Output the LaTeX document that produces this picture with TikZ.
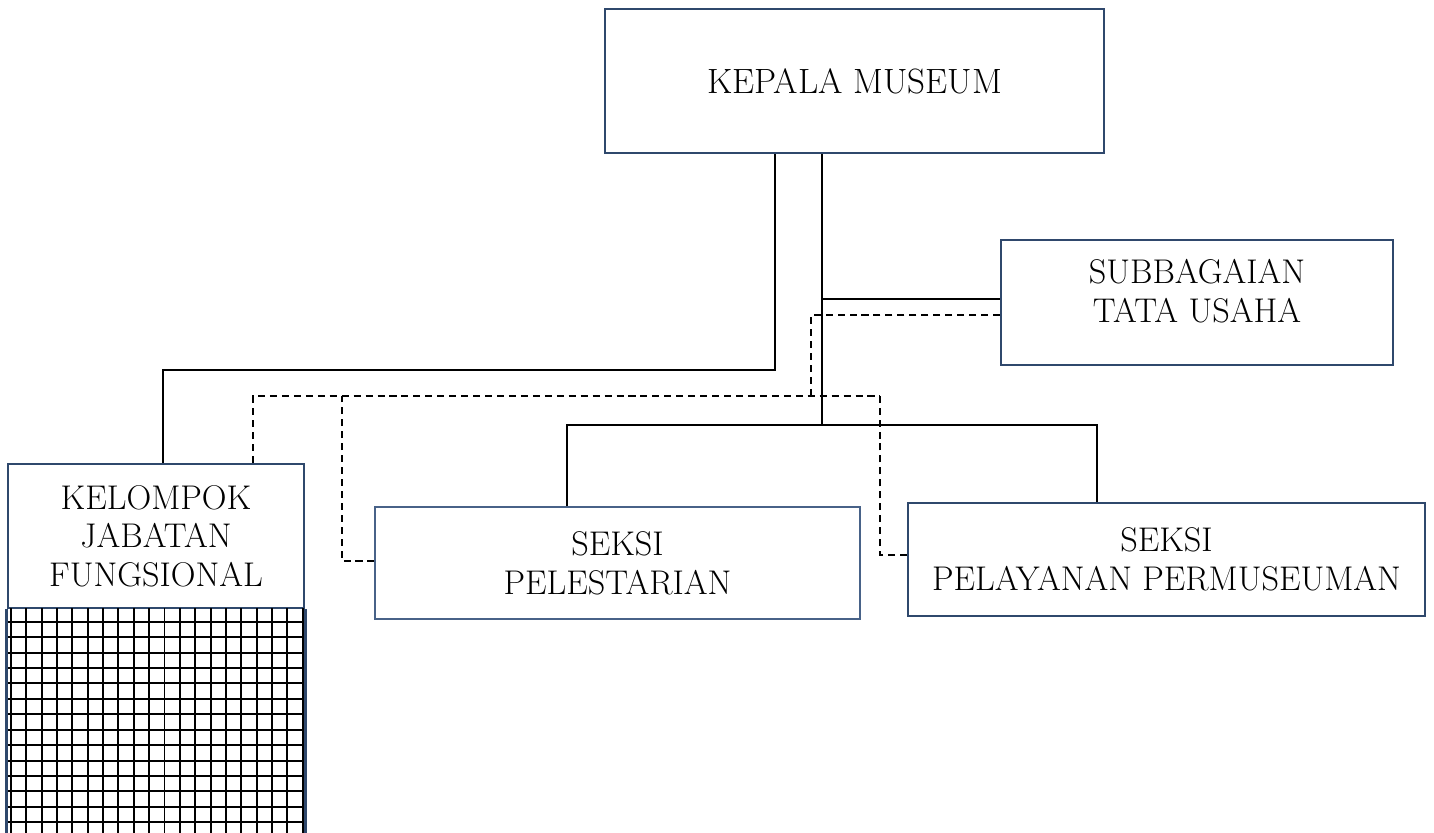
\documentclass[tikz,border=0pt]{standalone}
\usetikzlibrary{calc}
\definecolor{boxblue}{RGB}{47,72,108}
\definecolor{thinblue}{RGB}{72,98,136}
\tikzset{
  % style for the box of a unit
  unit/.style={
    draw=boxblue,
    line width=1.2pt,
    fill=white,
    align=center,
    inner sep=0pt,
    font=\fontsize{19.5}{22}\selectfont
  },
  % style for a line of command
  command/.style={black,line width=1pt},
  % style for a line of coordination
  liaison/.style={black,line width=0.8pt,dash pattern=on 4pt off 2.8pt},
}

\begin{document}
\begin{tikzpicture}[x=0.2mm,y=-0.2mm]
\useasboundingbox (0,0) rectangle (1434,833);
\node[unit,font=\fontsize{20}{22}\selectfont,minimum width=99.8mm,minimum height=28.8mm] (kepala) at (854.5,81) {KEPALA MUSEUM};
\node[unit,minimum width=78.4mm,minimum height=25mm] (tu) at (1197,302.5) {};
\node[align=center,font=\fontsize{19.5}{22}\selectfont] (tutext) at (1197,291) {SUBBAGAIAN\\TATA USAHA};
\node[unit,line width=1.5pt,minimum width=59.2mm,minimum height=28.8mm] (kjf) at (156,536) {KELOMPOK\\JABATAN\\FUNGSIONAL};
\node[unit,draw=thinblue,line width=0.6pt,minimum width=97mm,minimum height=22.4mm] (pel) at (617.5,563) {SEKSI\\PELESTARIAN};
\node[unit,minimum width=103.4mm,minimum height=22.6mm] (pmus) at (1166.5,559.5) {SEKSI\\PELAYANAN PERMUSEUMAN};
% grid below the functional group
\begin{scope}
  \clip (8,608) rectangle (304,833);
  \foreach \x in {0,...,19}
    \draw [black,line width=1.1pt](11+15.35*\x,608)--(11+15.35*\x,833);
  \foreach \y in {0,...,13}
    \draw [black,line width=1.1pt](8,621.7+15.43*\y)--(304,621.7+15.43*\y);
\end{scope}
\draw [boxblue,line width=1.5pt](kjf.south west)--(kjf.south west |- 0,833);
\draw [boxblue,line width=1.5pt](kjf.south east)--(kjf.south east |- 0,833);
\coordinate (jfbend) at (775,370);
\coordinate (bus) at (822,425);
\coordinate (tujoin) at (822,299);
\coordinate (staffbus) at (880,396);
\coordinate (pelbend) at (342,396);
\draw [command](kepala.south -| jfbend)--(jfbend)-|([xshift=1.4mm]kjf.north);
\draw [command](kepala.south -| bus)--(bus);
\draw [command](tujoin)--(tujoin -| tu.west);
\draw [command](pel.north -| 567,0)|-(bus)-|(pmus.north -| 1097,0);
\draw [liaison](tu.west |- 0,315)-|(811,396);
\draw [liaison](kjf.north -| 253,0)|-(staffbus);
\draw [liaison](pel.west |- 0,561)-|(pelbend);
\draw [liaison](pmus.west |- 0,555)-|(staffbus);
\end{tikzpicture}
\end{document}
